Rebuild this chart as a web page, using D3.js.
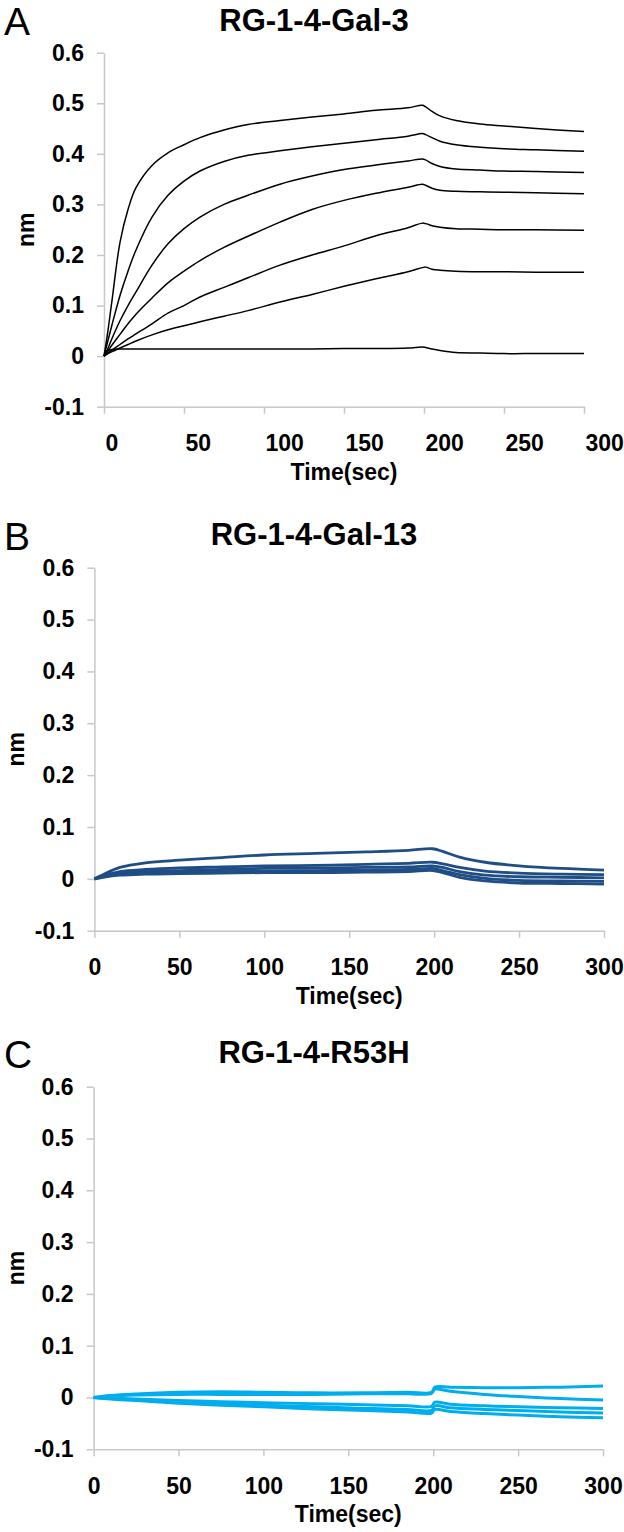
<!DOCTYPE html>
<html>
<head>
<meta charset="utf-8">
<script src="https://cdn.jsdelivr.net/npm/d3@7"></script>
<style>
  body { margin: 0; background: #fff; }
  svg { display: block; font-family: "Liberation Sans", Arial, sans-serif; }
</style>
</head>
<body>
<svg id="fig" width="624" height="1532"></svg>
<script>
// shared axis ticks
const xTicks = [0, 50, 100, 150, 200, 250, 300];
const yTicks = [-0.1, 0, 0.1, 0.2, 0.3, 0.4, 0.5, 0.6];
const yTickLabels = ["-0.1", "0", "0.1", "0.2", "0.3", "0.4", "0.5", "0.6"];

// panel A : RG-1-4-Gal-3 (7 concentrations)
const timeA = [0, 2, 5, 10, 15, 20, 30, 40, 50, 60, 75, 90, 110, 130, 150, 170, 190, 199, 201, 205, 210, 220, 235, 250, 270, 300];
const gal3_1 = [0, 0.04, 0.11, 0.225, 0.29, 0.333, 0.377, 0.402, 0.418, 0.432, 0.447, 0.458, 0.466, 0.473, 0.479, 0.486, 0.491, 0.496, 0.493, 0.484, 0.475, 0.466, 0.459, 0.455, 0.45, 0.444];
const gal3_2 = [0, 0.025, 0.062, 0.12, 0.168, 0.21, 0.275, 0.318, 0.346, 0.366, 0.385, 0.397, 0.406, 0.414, 0.421, 0.428, 0.435, 0.44, 0.438, 0.432, 0.425, 0.418, 0.413, 0.41, 0.408, 0.405];
const gal3_3 = [0, 0.012, 0.035, 0.07, 0.1, 0.127, 0.18, 0.222, 0.252, 0.275, 0.3, 0.318, 0.34, 0.356, 0.369, 0.378, 0.386, 0.39, 0.388, 0.381, 0.375, 0.37, 0.368, 0.366, 0.365, 0.363];
const gal3_4 = [0, 0.008, 0.022, 0.043, 0.064, 0.083, 0.115, 0.145, 0.168, 0.189, 0.215, 0.237, 0.265, 0.29, 0.308, 0.322, 0.334, 0.34, 0.338, 0.332, 0.328, 0.326, 0.325, 0.324, 0.323, 0.321];
const gal3_5 = [0, 0.005, 0.012, 0.023, 0.034, 0.044, 0.064, 0.085, 0.1, 0.117, 0.136, 0.155, 0.18, 0.2, 0.218, 0.238, 0.254, 0.263, 0.262, 0.258, 0.255, 0.252, 0.251, 0.25, 0.25, 0.249];
const gal3_6 = [0, 0.004, 0.009, 0.016, 0.023, 0.03, 0.042, 0.052, 0.06, 0.068, 0.079, 0.09, 0.107, 0.122, 0.138, 0.153, 0.167, 0.175, 0.176, 0.172, 0.17, 0.168, 0.167, 0.167, 0.166, 0.166];
const gal3_7 = [0, 0.01, 0.013, 0.014, 0.014, 0.014, 0.014, 0.014, 0.014, 0.014, 0.014, 0.014, 0.014, 0.014, 0.015, 0.015, 0.016, 0.018, 0.017, 0.014, 0.011, 0.007, 0.006, 0.005, 0.005, 0.005];

// panel B : RG-1-4-Gal-13
const timeB = [0, 5, 15, 30, 50, 75, 100, 130, 160, 185, 199, 205, 215, 230, 250, 275, 300];
const gal13_1 = [0, 0.008, 0.022, 0.031, 0.036, 0.041, 0.046, 0.049, 0.052, 0.055, 0.058, 0.053, 0.042, 0.032, 0.025, 0.02, 0.017];
const gal13_2 = [0, 0.006, 0.014, 0.018, 0.021, 0.023, 0.025, 0.026, 0.028, 0.03, 0.032, 0.029, 0.022, 0.015, 0.011, 0.009, 0.008];
const gal13_3 = [0, 0.005, 0.011, 0.014, 0.016, 0.018, 0.02, 0.021, 0.022, 0.023, 0.025, 0.022, 0.014, 0.007, 0.004, 0.003, 0.002];
const gal13_4 = [0, 0.004, 0.009, 0.011, 0.013, 0.014, 0.015, 0.016, 0.017, 0.018, 0.02, 0.016, 0.008, 0.001, -0.003, -0.004, -0.005];
const gal13_5 = [0, 0.003, 0.007, 0.009, 0.01, 0.011, 0.012, 0.012, 0.013, 0.014, 0.016, 0.012, 0.003, -0.004, -0.008, -0.009, -0.01];

// panel C : RG-1-4-R53H
const timeC = [0, 10, 25, 50, 75, 100, 130, 160, 185, 199, 201, 210, 230, 250, 275, 300];
const r53h_1 = [0, 0.004, 0.007, 0.01, 0.011, 0.01, 0.009, 0.009, 0.01, 0.01, 0.02, 0.02, 0.019, 0.019, 0.02, 0.022];
const r53h_2 = [0, 0.003, 0.005, 0.006, 0.006, 0.006, 0.006, 0.007, 0.007, 0.008, 0.016, 0.012, 0.006, 0.002, -0.002, -0.005];
const r53h_3 = [0, -0.001, -0.003, -0.006, -0.008, -0.01, -0.012, -0.014, -0.016, -0.017, -0.009, -0.013, -0.016, -0.018, -0.02, -0.021];
const r53h_4 = [0, -0.002, -0.005, -0.009, -0.012, -0.015, -0.018, -0.021, -0.023, -0.025, -0.016, -0.02, -0.023, -0.025, -0.028, -0.03];
const r53h_5 = [0, -0.003, -0.006, -0.011, -0.015, -0.018, -0.022, -0.025, -0.028, -0.03, -0.023, -0.027, -0.031, -0.034, -0.037, -0.039];

const panels = [
  {letter: "A", title: "RG-1-4-Gal-3", time: timeA, series: [gal3_1, gal3_2, gal3_3, gal3_4, gal3_5, gal3_6, gal3_7],
   color: "#000", lw: 1.5, left: 104, right: 584, top: 52.7, bottom: 406.7,
   letterY: 35, titleY: 31, nmX: 34, xAnchor: "start"},
  {letter: "B", title: "RG-1-4-Gal-13", time: timeB, series: [gal13_1, gal13_2, gal13_3, gal13_4, gal13_5],
   color: "#1f4e86", lw: 2.8, left: 94.4, right: 604, top: 567.7, bottom: 930.7,
   letterY: 550, titleY: 545, nmX: 24, xAnchor: "middle"},
  {letter: "C", title: "RG-1-4-R53H", time: timeC, series: [r53h_1, r53h_2, r53h_3, r53h_4, r53h_5],
   color: "#00aeef", lw: 3, left: 93.6, right: 603, top: 1086.7, bottom: 1449.3,
   letterY: 1068, titleY: 1063, nmX: 24, xAnchor: "middle"}
];

const svg = d3.select("#fig");
const axisGray = "#c8c8c8";

function drawPanel(p) {
  const g = svg.append("g");

  const x = d3.scaleLinear().domain([0, 300]).range([p.left, p.right]);
  const y = d3.scaleLinear().domain([-0.1, 0.6]).range([p.bottom, p.top]);

  // y axis
  const ya = g.append("g")
    .attr("transform", "translate(" + p.left + ",0)")
    .call(d3.axisLeft(y).tickValues(yTicks).tickSize(7).tickSizeOuter(0).tickPadding(13)
      .tickFormat((d, i) => yTickLabels[i]));
  // x axis
  const xa = g.append("g")
    .attr("transform", "translate(0," + p.bottom + ")")
    .call(d3.axisBottom(x).tickValues(xTicks).tickSize(7).tickSizeOuter(0).tickPadding(21)
      .tickFormat(d => String(d)));

  [ya, xa].forEach(a => {
    a.select(".domain").attr("stroke", axisGray).attr("stroke-width", 1.5);
    a.selectAll(".tick line").attr("stroke", axisGray).attr("stroke-width", 1.5);
    a.selectAll("text").attr("fill", "#000").style("font-size", "23px").style("font-weight", "bold");
  });
  if (p.xAnchor === "start") xa.selectAll("text").attr("text-anchor", "start").attr("x", 1);

  // curves
  const line = d3.line()
    .x((d, i) => x(p.time[i]))
    .y(d => y(d))
    .curve(d3.curveCatmullRom.alpha(0.5));
  g.selectAll("path.trace")
    .data(p.series)
    .enter()
    .append("path")
    .attr("class", "trace")
    .attr("fill", "none")
    .attr("stroke", p.color)
    .attr("stroke-width", p.lw)
    .attr("stroke-linejoin", "round")
    .attr("d", line);

  // texts
  g.append("text")
    .attr("x", 4).attr("y", p.letterY)
    .style("font-size", "39px")
    .text(p.letter);
  g.append("text")
    .attr("x", 314).attr("y", p.titleY)
    .attr("text-anchor", "middle")
    .style("font-size", "31px").style("font-weight", "bold")
    .text(p.title);
  g.append("text")
    .attr("transform", "translate(" + p.nmX + "," + ((p.top + p.bottom) / 2) + ") rotate(-90)")
    .attr("text-anchor", "middle")
    .style("font-size", "23px").style("font-weight", "bold")
    .text("nm");
  g.append("text")
    .attr("x", (p.left + p.right) / 2).attr("y", p.bottom + 73)
    .attr("text-anchor", "middle")
    .style("font-size", "23px").style("font-weight", "bold")
    .text("Time(sec)");
}

panels.forEach(drawPanel);
</script>
</body>
</html>
